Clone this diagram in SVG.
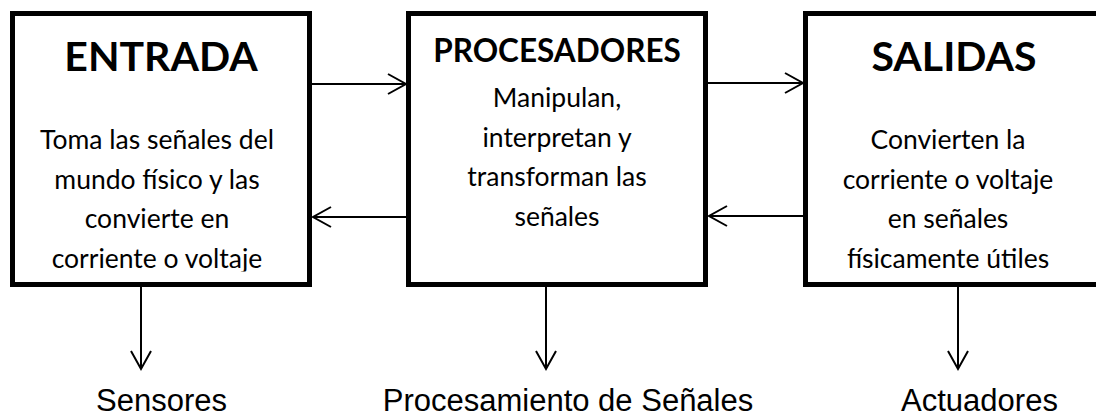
<svg xmlns="http://www.w3.org/2000/svg" width="1096" height="416" viewBox="0 0 1096 416">
  <style>
    .box { fill: #ffffff; stroke: #000000; stroke-width: 5; }
    .hdr { font-family: Lato, "Noto Sans", sans-serif; font-weight: 700; fill: #000; text-anchor: middle; }
    .body { font-family: Lato, "Noto Sans", sans-serif; font-size: 26.5px; fill: #000; text-anchor: middle; }
    .lbl { font-family: "Liberation Sans", Arial, sans-serif; font-size: 31px; fill: #000; text-anchor: middle; }
    .conn { stroke: #000; stroke-width: 2; fill: none; marker-end: url(#arrow); }
  </style>
  <defs>
    <marker id="arrow" viewBox="0 0 22 22" refX="19" refY="11" markerWidth="22" markerHeight="22" markerUnits="userSpaceOnUse" orient="auto">
      <path d="M1,1 L19,11 L1,21" fill="none" stroke="#000" stroke-width="2"/>
    </marker>
    <clipPath id="clipE">
      <rect x="15" y="100" width="292" height="171.5"/>
    </clipPath>
  </defs>
  <rect width="1096" height="416" fill="#ffffff"/>

  <g id="entrada">
    <rect class="box" x="12.5" y="13.5" width="297" height="271"/>
    <text class="hdr" x="161" y="71" font-size="41">ENTRADA</text>
    <g clip-path="url(#clipE)">
      <text class="body" x="157" y="149">Toma las señales del</text>
      <text class="body" x="157" y="188.5">mundo físico y las</text>
      <text class="body" x="157" y="228">convierte en</text>
      <text class="body" x="157" y="267.5">corriente o voltaje</text>
    </g>
  </g>

  <g id="procesadores">
    <rect class="box" x="408.5" y="13.5" width="297" height="271"/>
    <text class="hdr" x="557" y="62" font-size="31.5">PROCESADORES</text>
    <text class="body" x="557" y="107">Manipulan,</text>
    <text class="body" x="557" y="146.5">interpretan y</text>
    <text class="body" x="557" y="186">transforman las</text>
    <text class="body" x="557" y="225.5">señales</text>
  </g>

  <g id="salidas">
    <rect class="box" x="805.5" y="13.5" width="297" height="271"/>
    <text class="hdr" x="954" y="71" font-size="41">SALIDAS</text>
    <text class="body" x="948" y="149">Convierten la</text>
    <text class="body" x="948" y="188.5">corriente o voltaje</text>
    <text class="body" x="948" y="228">en señales</text>
    <text class="body" x="948" y="267.5">físicamente útiles</text>
  </g>

  <g id="sensores">
    <text class="lbl" x="161.5" y="411">Sensores</text>
  </g>
  <g id="procesamiento">
    <text class="lbl" x="568" y="411">Procesamiento de Señales</text>
  </g>
  <g id="actuadores">
    <text class="lbl" x="979.5" y="411">Actuadores</text>
  </g>

  <g id="connectors">
    <line class="conn" x1="312" y1="84" x2="406" y2="84"/>
    <line class="conn" x1="406" y1="217" x2="313" y2="217"/>
    <line class="conn" x1="708" y1="83" x2="803" y2="83"/>
    <line class="conn" x1="803" y1="216" x2="709" y2="216"/>
    <line class="conn" x1="141" y1="287" x2="141" y2="369"/>
    <line class="conn" x1="546" y1="287" x2="546" y2="369"/>
    <line class="conn" x1="958" y1="287" x2="958" y2="369"/>
  </g>
</svg>
